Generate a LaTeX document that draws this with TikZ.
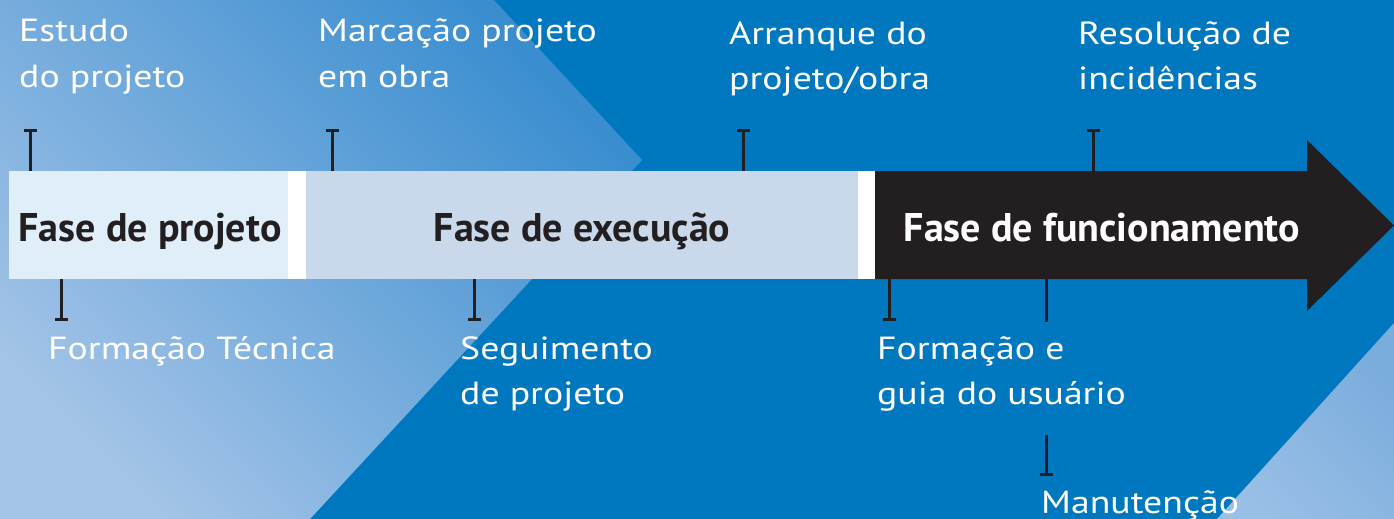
\documentclass[tikz,border=0pt]{standalone}
\usepackage{fontspec}
\setmainfont{PT Sans}
\newfontfamily\labelfont{PT Sans}[FakeStretch=1.18]
\newfontfamily\phasefont{PT Sans}
\usetikzlibrary{arrows.meta}
\definecolor{mainblue}{HTML}{0078C0}
\definecolor{lightL}{HTML}{A3C3E7}
\definecolor{darkL}{HTML}{3A8ED0}
\definecolor{triA}{HTML}{7AACDC}
\definecolor{triB}{HTML}{98BFE6}
\definecolor{boxA}{HTML}{E0EEF9}
\definecolor{boxB}{HTML}{C9D9EB}
\definecolor{ink}{HTML}{231F20}
\begin{document}
\begin{tikzpicture}[x=1pt,y=-1pt,
  lbl/.style={text=white,font=\labelfont\fontsize{32}{45}\selectfont,align=left,inner sep=0pt,anchor=base west},
  phase/.style={font=\phasefont\bfseries\fontsize{40}{48}\selectfont,inner sep=0pt,anchor=base},
  barbox/.style={inner sep=0pt,anchor=north west,minimum height=108pt},
  tick/.style={draw=ink,line width=3pt,-{Bar[width=13pt]}},
  plaintick/.style={draw=ink,line width=3pt}
]
\useasboundingbox (0,0) rectangle (1394,519);
% background
\fill[mainblue] (0,0) rectangle (1394,519);
\shade[bottom color=lightL, top color=darkL, shading angle=-45]
  (0,0) -- (494,0) -- (642,160) -- (310,519) -- (0,519) -- cycle;
\shade[left color=triA, right color=triB, shading angle=-45]
  (1394,323) -- (1394,519) -- (1217,519) -- cycle;
% bar
\node[barbox,fill=boxA,minimum width=279pt] (b1) at (9,171) {};
\fill[white] (288,171) rectangle (306,279);
\node[barbox,fill=boxB,minimum width=552pt] (b2) at (306,171) {};
\fill[white] (858,171) rectangle (875,279);
\fill[ink] (875,171) -- (1307,171) -- (1307,140) -- (1394,225.5) -- (1307,311) -- (1307,279) -- (875,279) -- cycle;
\coordinate (b3) at (1091,225);
% phase labels
\node[phase,text=ink] (f1) at (150,241) {Fase de projeto};
\node[phase,text=ink] (f2) at (582,241) {Fase de execução};
\node[phase,text=white] (f3) at (1102,241) {Fase de funcionamento};
% ticks
\coordinate (u1a) at (30,171);  \coordinate (u1b) at (30,129);
\coordinate (u2a) at (332,171); \coordinate (u2b) at (332,129);
\coordinate (u3a) at (743,171); \coordinate (u3b) at (743,129);
\coordinate (u4a) at (1093,171);\coordinate (u4b) at (1093,129);
\coordinate (d1a) at (61,279);  \coordinate (d1b) at (61,321);
\coordinate (d2a) at (474,279); \coordinate (d2b) at (474,321);
\coordinate (d3a) at (889,279); \coordinate (d3b) at (889,321);
\coordinate (d4a) at (1046,279);\coordinate (d4b) at (1046,322);
\coordinate (d5a) at (1046,435);\coordinate (d5b) at (1046,476);
\draw[tick] (u1a) -- (u1b);
\draw[tick] (u2a) -- (u2b);
\draw[tick] (u3a) -- (u3b);
\draw[tick] (u4a) -- (u4b);
\draw[tick] (d1a) -- (d1b);
\draw[tick] (d2a) -- (d2b);
\draw[tick] (d3a) -- (d3b);
\draw[plaintick] (d4a) -- (d4b);
\draw[tick] (d5a) -- (d5b);
% labels (base anchor = baseline of last line)
\node[lbl] (l1) at (19,87) {Estudo\\do projeto};
\node[lbl] (l2) at (318,87) {Marcação projeto\\em obra};
\node[lbl] (l3) at (729,89) {Arranque do\\projeto/obra};
\node[lbl] (l4) at (1078,89) {Resolução de\\incidências};
\node[lbl] (l5) at (48,359) {Formação Técnica};
\node[lbl] (l6) at (460,404) {Seguimento\\de projeto};
\node[lbl] (l7) at (877,404) {Formação e\\guia do usuário};
\node[lbl] (l8) at (1041,513) {Manutenção};
\end{tikzpicture}
\end{document}
